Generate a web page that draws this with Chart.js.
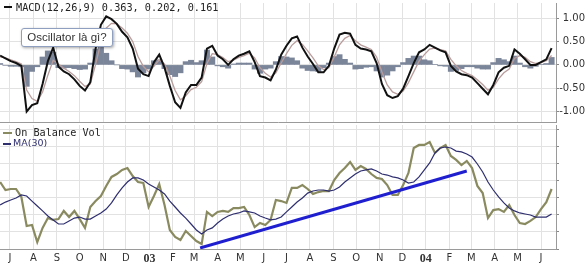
<!DOCTYPE html>
<html><head><meta charset="utf-8">
<script src="https://cdn.jsdelivr.net/npm/chart.js@4.4.1/dist/chart.umd.min.js"></script>
<style>
html,body{margin:0;padding:0;background:#fff;width:585px;height:268px;overflow:hidden;}
#wrap{position:relative;width:585px;height:268px;}
canvas{position:absolute;left:0;}
#c1{top:0;} #c2{top:125px;}
.leg{position:absolute;white-space:nowrap;line-height:12px;}
.dash{position:absolute;}
#tip{position:absolute;left:21px;top:28px;width:90px;height:17px;border:1px solid #8f9fbf;border-radius:3px;background:#fff;box-shadow:1px 1px 3px rgba(0,0,0,0.35);font:11.5px "Liberation Sans",Arial,sans-serif;color:#333;text-align:center;line-height:17px;}
</style></head><body>
<div id="wrap">
<canvas id="c1" width="585" height="125"></canvas>
<canvas id="c2" width="585" height="143"></canvas>
<div class="dash" style="left:4px;top:6px;width:8px;height:2px;background:#111"></div>
<div class="leg" id="lgMacd" style="left:16px;top:2px;font:10.2px 'DejaVu Sans Mono',monospace;color:#222"></div>
<div class="dash" style="left:3px;top:132px;width:9px;height:2px;background:#8a8a60"></div>
<div class="leg" id="lgObv" style="left:15px;top:127px;font:10.2px 'DejaVu Sans Mono',monospace;color:#222"></div>
<div class="dash" style="left:3px;top:143px;width:8px;height:1.5px;background:#2f2f70"></div>
<div class="leg" id="lgMa" style="left:13px;top:137px;font:9.5px 'DejaVu Sans',sans-serif;color:#2f2f70"></div>
<div id="tip">Oscillator là gì?</div>
</div>
<script>
// ---- data (weekly samples, first week 2002-06-18) ----
const firstWeek = '2002-06-18';
const axisOrigin = '2002-07-01';
const xTickLabels = ['J','A','S','O','N','D','03','F','M','A','M','J','J','A','S','O','N','D','04','F','M','A','M','J'];
const macdTickValues = [-1,-0.75,-0.5,-0.25,0,0.25,0.5,0.75,1];
const legendTexts = ['MACD(12,26,9) 0.363, 0.202, 0.161','On Balance Vol','MA(30)'];

const macd = [0.20,0.14,0.08,0.04,-0.02,-1.00,-0.86,-0.82,-0.41,0.08,
0.37,-0.04,-0.14,-0.20,-0.31,-0.45,-0.55,-0.37,0.35,0.86,
1.04,0.98,0.88,0.71,0.59,0.35,-0.08,-0.20,-0.24,0.06,
0.22,-0.06,-0.45,-0.80,-0.92,-0.59,-0.43,-0.43,-0.27,0.35,
0.41,0.20,0.12,0.00,0.12,0.20,0.24,0.29,0.06,-0.24,
-0.27,-0.33,-0.10,0.22,0.41,0.57,0.61,0.37,0.18,0.02,
-0.16,-0.16,-0.02,0.35,0.65,0.69,0.67,0.43,0.35,0.33,
0.29,0.04,-0.41,-0.65,-0.71,-0.67,-0.51,-0.24,0.04,0.27,
0.33,0.43,0.37,0.31,0.27,-0.02,-0.14,-0.20,-0.22,-0.27,
-0.39,-0.51,-0.63,-0.43,-0.16,-0.06,-0.02,0.33,0.24,0.12,
0.00,0.00,0.06,0.12,0.36];

const signal = [0.17,0.15,0.11,0.07,0.02,-0.54,-0.72,-0.78,-0.58,-0.22,
0.10,0.02,-0.07,-0.14,-0.23,-0.35,-0.46,-0.41,0.01,0.48,
0.79,0.89,0.88,0.79,0.68,0.50,0.18,-0.03,-0.15,-0.03,
0.11,0.02,-0.24,-0.55,-0.75,-0.66,-0.53,-0.48,-0.36,0.03,
0.24,0.22,0.16,0.07,0.10,0.16,0.20,0.25,0.15,-0.06,
-0.18,-0.26,-0.17,0.04,0.24,0.42,0.52,0.44,0.30,0.15,
-0.02,-0.10,-0.06,0.17,0.43,0.57,0.63,0.52,0.43,0.38,
0.33,0.17,-0.15,-0.43,-0.58,-0.63,-0.56,-0.38,-0.15,0.08,
0.22,0.34,0.36,0.33,0.30,0.12,-0.02,-0.12,-0.18,-0.23,
-0.32,-0.42,-0.54,-0.48,-0.30,-0.17,-0.09,0.14,0.20,0.16,
0.07,0.03,0.05,0.09,0.20];

const histogram = [0.03,-0.01,-0.03,-0.03,-0.04,-0.46,-0.14,-0.04,0.17,0.30,
0.27,-0.06,-0.07,-0.06,-0.08,-0.10,-0.09,0.04,0.34,0.38,
0.25,0.09,0.00,-0.08,-0.09,-0.15,-0.26,-0.17,-0.09,0.09,
0.11,-0.08,-0.21,-0.25,-0.17,0.07,0.10,0.05,0.09,0.32,
0.17,-0.02,-0.04,-0.07,0.02,0.04,0.04,0.04,-0.09,-0.18,
-0.09,-0.07,0.07,0.18,0.17,0.15,0.09,-0.07,-0.12,-0.13,
-0.14,-0.06,0.04,0.18,0.22,0.12,0.04,-0.09,-0.08,-0.05,
-0.04,-0.13,-0.26,-0.22,-0.13,-0.04,0.05,0.14,0.19,0.19,
0.11,0.09,0.01,-0.02,-0.03,-0.14,-0.12,-0.08,-0.04,-0.04,
-0.07,-0.09,-0.09,0.05,0.14,0.11,0.07,0.19,0.04,-0.04,
-0.07,-0.03,0.01,0.03,0.16];

const obv = [3.94,3.47,3.53,3.53,3.06,1.35,1.41,0.41,1.24,1.82,
1.71,1.76,2.24,1.88,2.24,1.76,1.24,2.47,2.82,3.12,
3.71,4.24,4.41,4.65,4.76,4.29,3.94,3.88,2.47,3.12,
3.82,2.59,1.12,0.71,0.53,1.06,0.76,0.47,0.29,2.18,
1.94,2.18,2.24,2.18,2.41,2.41,2.47,2.00,1.29,1.53,
1.41,1.71,2.88,2.82,2.71,3.59,3.59,3.76,3.53,3.24,
3.35,3.41,3.41,4.06,4.47,4.76,5.12,4.65,4.88,4.71,
4.41,4.18,4.12,3.76,3.18,3.18,3.76,4.47,5.94,6.12,
6.12,6.29,5.65,5.94,6.12,5.47,5.24,4.94,5.18,4.76,
3.71,3.29,1.82,2.29,2.35,2.18,2.59,2.00,1.53,1.47,
1.65,1.88,2.35,2.76,3.53];

const ma30 = [2.59,2.76,2.88,3.00,3.18,3.12,2.82,2.53,2.24,1.94,
1.71,1.47,1.47,1.65,1.82,1.88,1.76,1.76,1.94,2.12,
2.35,2.71,3.18,3.59,3.94,4.18,4.18,4.06,3.82,3.65,
3.47,3.24,2.82,2.47,2.12,1.82,1.47,1.12,0.88,1.12,
1.24,1.53,1.76,1.94,2.06,2.12,2.24,2.18,2.12,1.94,
1.82,1.71,1.76,1.88,2.18,2.47,2.76,3.00,3.29,3.41,
3.47,3.47,3.41,3.47,3.65,3.94,4.18,4.41,4.59,4.65,
4.71,4.59,4.41,4.35,4.24,4.18,4.06,3.88,3.94,4.24,
4.65,5.06,5.65,5.94,6.00,5.94,5.76,5.71,5.59,5.41,
5.00,4.53,3.94,3.47,3.06,2.71,2.41,2.24,2.12,2.06,
2.00,1.88,1.88,1.88,2.06];

const trendDates = ['2003-03-09','2004-02-24'];
const trendValues = [0.06, 4.59];

// ---- helpers ----
const DAY = 86400000;
const origin = Date.parse(axisOrigin + 'T00:00:00Z');
const dayOf = s => (Date.parse(s + 'T00:00:00Z') - origin) / DAY;
const week0 = dayOf(firstWeek);
const weekDays = macd.map((_, k) => week0 + 7 * k);
const monthDays = xTickLabels.map((_, i) => (Date.UTC(2002, 6 + i, 1) - origin) / DAY);
const pts = (xs, ys) => ys.map((y, i) => ({x: xs[i], y}));
const X_MIN = -13.2, X_MAX = 720.8;
const GRID = '#e2e2e2', AXIS = '#9a9a9a';

document.getElementById('lgMacd').textContent = legendTexts[0];
document.getElementById('lgObv').textContent = legendTexts[1];
document.getElementById('lgMa').textContent = legendTexts[2];

const common = {responsive:false, animation:false, events:[], layout:{padding:0},
  plugins:{legend:{display:false}, tooltip:{enabled:false}}};

new Chart(document.getElementById('c1'), {
  type:'line',
  data:{datasets:[
    {data:pts(weekDays, macd), borderColor:'#111', borderWidth:2, pointRadius:0, tension:0, order:1},
    {data:pts(weekDays, signal), borderColor:'#b99d9d', borderWidth:1.3, pointRadius:0, tension:0, order:2},
    {type:'bar', data:pts(weekDays, histogram), backgroundColor:'#7b859a', borderWidth:0, barPercentage:1, categoryPercentage:1, order:3}
  ]},
  options:Object.assign({}, common, {
    scales:{
      x:{type:'linear', min:X_MIN, max:X_MAX, offset:false,
        afterBuildTicks:s=>{s.ticks = monthDays.map(v=>({value:v}));},
        afterFit:s=>{s.height = 0;},
        ticks:{display:false},
        grid:{color:GRID, drawTicks:false, offset:false},
        border:{display:true, color:AXIS}},
      y:{position:'right', min:-1.224, max:1.327,
        afterBuildTicks:s=>{s.ticks = macdTickValues.map(v=>({value:v}));},
        afterFit:s=>{s.width = 29;},
        ticks:{font:{family:'DejaVu Sans', size:10}, color:'#333', crossAlign:'far', padding:-3,
          callback:v=>Number(v).toFixed(2)},
        grid:{color:GRID, tickLength:3, tickColor:'#888'},
        border:{display:true, color:AXIS}}
    }
  })
});

new Chart(document.getElementById('c2'), {
  type:'line',
  data:{datasets:[
    {data:pts(trendDates.map(dayOf), trendValues), borderColor:'#1f1fd0', borderWidth:3, pointRadius:0, order:0},
    {data:pts(weekDays, ma30), borderColor:'#2f2f70', borderWidth:1.2, pointRadius:0, tension:0, order:1},
    {data:pts(weekDays, obv), borderColor:'#8a8a60', borderWidth:2.2, pointRadius:0, tension:0, order:2}
  ]},
  options:Object.assign({}, common, {
    scales:{
      x:{type:'linear', min:X_MIN, max:X_MAX, offset:false,
        afterBuildTicks:s=>{s.ticks = monthDays.map(v=>({value:v}));},
        afterFit:s=>{s.height = 19;},
        ticks:{autoSkip:false, maxRotation:0, minRotation:0, padding:3, color:'#333',
          callback:(v,i)=>xTickLabels[i],
          font:ctx=>(/\d/.test(xTickLabels[ctx.index] || '') ?
            {family:'Liberation Serif', size:12, weight:'bold'} : {family:'DejaVu Sans', size:10})},
        grid:{color:GRID, drawTicks:false, offset:false},
        border:{display:true, color:AXIS}},
      y:{position:'right', min:0, max:7.294,
        afterBuildTicks:s=>{s.ticks = [0,1,2,3,4,5,6,7].map(v=>({value:v}));},
        afterFit:s=>{s.width = 29;},
        ticks:{display:false},
        grid:{color:GRID, tickLength:3, tickColor:'#888'},
        border:{display:true, color:AXIS}}
    }
  })
});
</script>
</body></html>
